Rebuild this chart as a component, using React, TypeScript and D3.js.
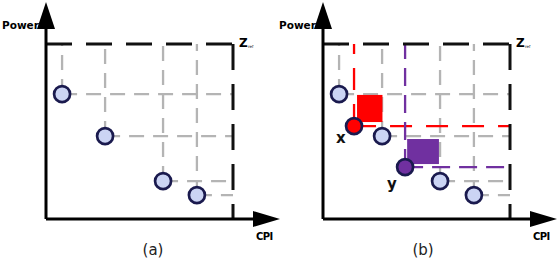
import React from "react";
import * as d3 from "d3";

// data (normalized CPI / Power units, 0..100 where Z_ref = (100,100))
const pointCPI = [8.6, 31.6, 62.6, 80.7];
const pointPower = [71.4, 47.4, 21.7, 13.7];
const xPoint = { cpi: 16.6, power: 53.1 };
const yPoint = { cpi: 43.9, power: 29.7 };
const redRect = [18.2, 31.8, 55.4, 70.9];
const purpleRect = [45.0, 62.0, 31.4, 45.7];
const panelLabels = ["(a)", "(b)"];
const panelOffsets = [0, 277];
const labelCenters = [153, 146];

const W = 560, H = 260;
const xS = d3.scaleLinear().domain([0, 100]).range([46, 233]);
const yS = d3.scaleLinear().domain([0, 100]).range([219, 44]);

const GRAY = "#b4b4b4";
const NAVY = "#1a1a4e";
const FILL = "#cbd4f4";
const RED = "#ff0000";
const PURPLE = "#7030a0";
const FONT = "DejaVu Sans, sans-serif";

function Panel({ off, label, extra, lc }: { off: number; label: string; extra: boolean; lc: number }) {
  const x0 = xS(0), y0 = yS(0), x1 = xS(100), y1 = yS(100);
  const R = 8, SW = 2.7;
  return (
    <g transform={`translate(${off},0)`}>
      {/* gray dominance lines */}
      {pointCPI.map((c, i) => (
        <g key={i} stroke={GRAY} strokeWidth={2.3} strokeDasharray="15,9" fill="none">
          <line x1={xS(c)} y1={yS(pointPower[i])} x2={xS(c)} y2={y1} />
          <line x1={xS(c)} y1={yS(pointPower[i])} x2={x1} y2={yS(pointPower[i])} />
        </g>
      ))}
      {extra && (
        <g>
          <rect x={xS(redRect[0])} y={yS(redRect[3])} width={xS(redRect[1]) - xS(redRect[0])}
            height={yS(redRect[2]) - yS(redRect[3])} fill={RED} />
          <rect x={xS(purpleRect[0])} y={yS(purpleRect[3])} width={xS(purpleRect[1]) - xS(purpleRect[0])}
            height={yS(purpleRect[2]) - yS(purpleRect[3])} fill={PURPLE} />
          <g stroke={RED} strokeWidth={2.3} strokeDasharray="22,14" fill="none">
            <line x1={xS(xPoint.cpi)} y1={yS(xPoint.power)} x2={xS(xPoint.cpi)} y2={y1} />
            <line x1={xS(xPoint.cpi)} y1={yS(xPoint.power)} x2={x1} y2={yS(xPoint.power)} />
          </g>
          <g stroke={PURPLE} strokeWidth={2.3} strokeDasharray="18,9" fill="none">
            <line x1={xS(yPoint.cpi)} y1={yS(yPoint.power)} x2={xS(yPoint.cpi)} y2={y1} />
            <line x1={xS(yPoint.cpi)} y1={yS(yPoint.power)} x2={x1} y2={yS(yPoint.power)} />
          </g>
        </g>
      )}
      {/* Z_ref dashed border */}
      <g stroke="#111" strokeWidth={3} strokeDasharray="26,14" fill="none">
        <line x1={x0} y1={y1} x2={x1} y2={y1} />
        <line x1={x1} y1={y1} x2={x1} y2={y0} />
      </g>
      {/* axes */}
      <line x1={x0} y1={y0} x2={x0} y2={26} stroke="#000" strokeWidth={3} />
      <line x1={x0} y1={y0} x2={256} y2={y0} stroke="#000" strokeWidth={3} />
      <path d={`M${x0},2 L${x0 + 9},29 L${x0 - 9},29 Z`} fill="#000" />
      <path d={`M280,${y0} L253,${y0 + 8} L253,${y0 - 8} Z`} fill="#000" />
      {/* points */}
      {pointCPI.map((c, i) => (
        <circle key={i} cx={xS(c)} cy={yS(pointPower[i])} r={R} fill={FILL} stroke={NAVY} strokeWidth={SW} />
      ))}
      {extra && (
        <g>
          <circle cx={xS(xPoint.cpi)} cy={yS(xPoint.power)} r={R} fill={RED} stroke={NAVY} strokeWidth={SW} />
          <circle cx={xS(yPoint.cpi)} cy={yS(yPoint.power)} r={R} fill={PURPLE} stroke={NAVY} strokeWidth={SW} />
          <text x={xS(xPoint.cpi) - 18} y={yS(xPoint.power) + 17} fontFamily={FONT} fontWeight="bold" fontSize={15} fill="#111">x</text>
          <text x={xS(yPoint.cpi) - 18} y={yS(yPoint.power) + 22} fontFamily={FONT} fontWeight="bold" fontSize={15} fill="#111">y</text>
        </g>
      )}
      {/* labels */}
      <text x={2} y={29} fontFamily={FONT} fontWeight="bold" fontSize={10.5} fill="#000">Power</text>
      <text x={256} y={240} fontFamily={FONT} fontWeight="bold" fontSize={10} fill="#000" letterSpacing={-0.6}>CPI</text>
      <text x={239} y={47} fontFamily={FONT} fontWeight="bold" fontSize={12} fill="#000">Z</text>
      <text x={248} y={48} fontFamily={FONT} fontSize={4} fill="#000">ref</text>
      <text x={lc} y={255} fontFamily={FONT} fontSize={15} fill="#222" textAnchor="middle">{label}</text>
    </g>
  );
}

export default function App() {
  return (
    <svg width={W} height={H} style={{ position: "absolute", left: 0, top: 0, background: "#fff" }}>
      {panelOffsets.map((off, i) => (
        <Panel key={i} off={off} label={panelLabels[i]} extra={i === 1} lc={labelCenters[i]} />
      ))}
    </svg>
  );
}
